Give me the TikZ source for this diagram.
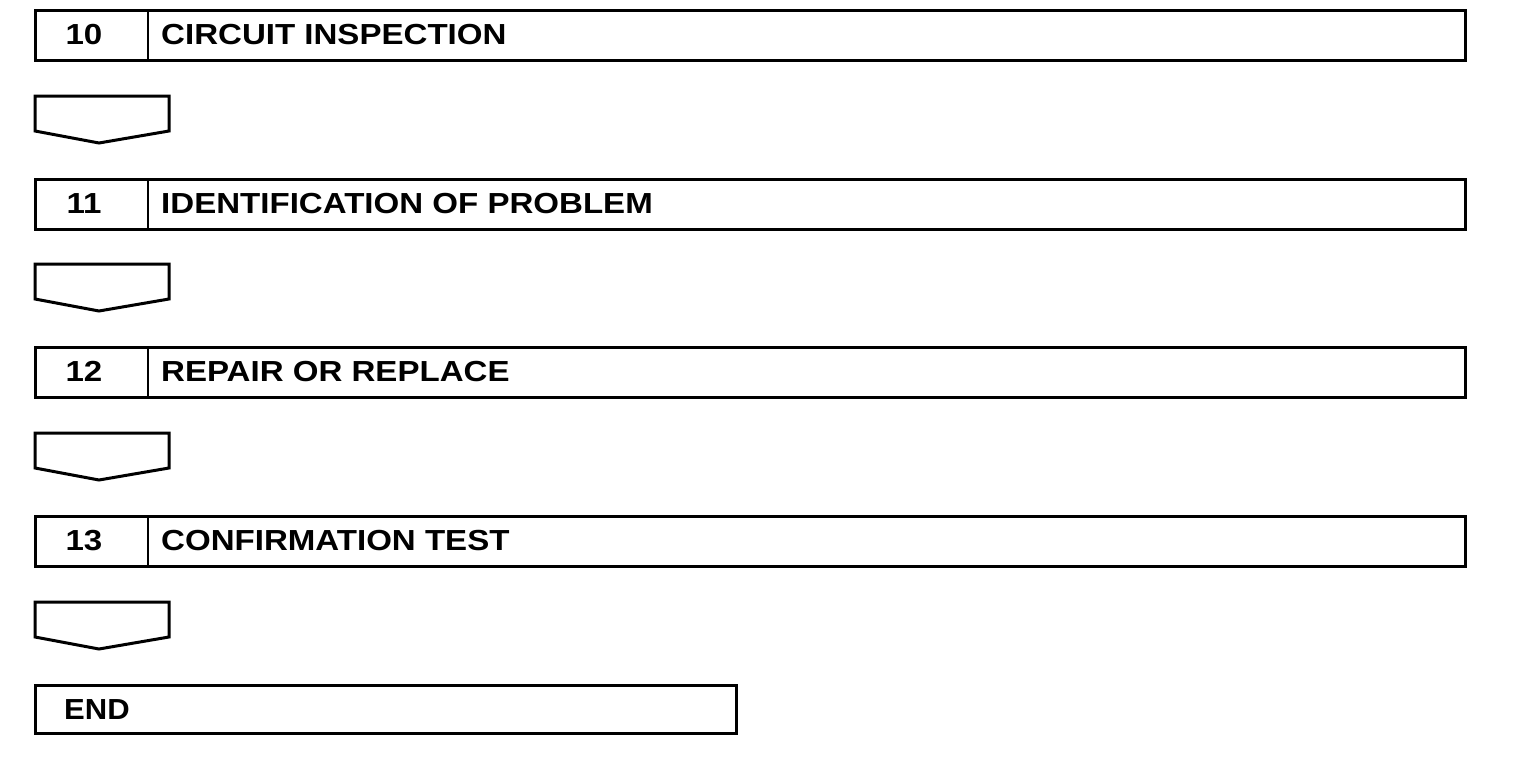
\documentclass[tikz,border=0pt]{standalone}
\usepackage{fontspec}
\setmainfont{Liberation Sans}
\newcommand{\widetext}[2][1.14]{\scalebox{#1}[1]{#2}}
\begin{document}
\begin{tikzpicture}[x=1pt,y=-1pt,
  stepframe/.style={draw=black,line width=3pt},
  divline/.style={draw=black,line width=2pt},
  arrowshape/.style={draw=black,line width=3pt,line join=miter},
  numtext/.style={font=\fontsize{29}{30}\selectfont\bfseries,anchor=base},
  titletext/.style={font=\fontsize{29}{30}\selectfont\bfseries,anchor=base west,inner sep=0pt}]
\useasboundingbox (0,0) rectangle (1520,766);
% step boxes
\foreach \n/\t/\y in {10/CIRCUIT INSPECTION/10, 11/IDENTIFICATION OF PROBLEM/179, 12/REPAIR OR REPLACE/347, 13/CONFIRMATION TEST/516}{
  \draw[stepframe] (35,\y) rectangle (1465,\y+50);
  \draw[divline] (148,\y) -- (148,\y+50);
  \node[numtext] (num\n) at (84,\y+34.5) {\widetext{\n}};
  \node[titletext] (title\n) at (161,\y+34.5) {\widetext{\t}};
}
% arrows
\foreach \y in {96,264,433,602}{
  \draw[arrowshape] (35,\y) -- (169,\y) -- (169,\y+35) -- (99,\y+47) -- (35,\y+35) -- cycle;
}
% end box
\draw[stepframe] (35,685) rectangle (736,733);
\node[titletext] (endtext) at (64,719) {\widetext[1.07]{END}};
\end{tikzpicture}
\end{document}
